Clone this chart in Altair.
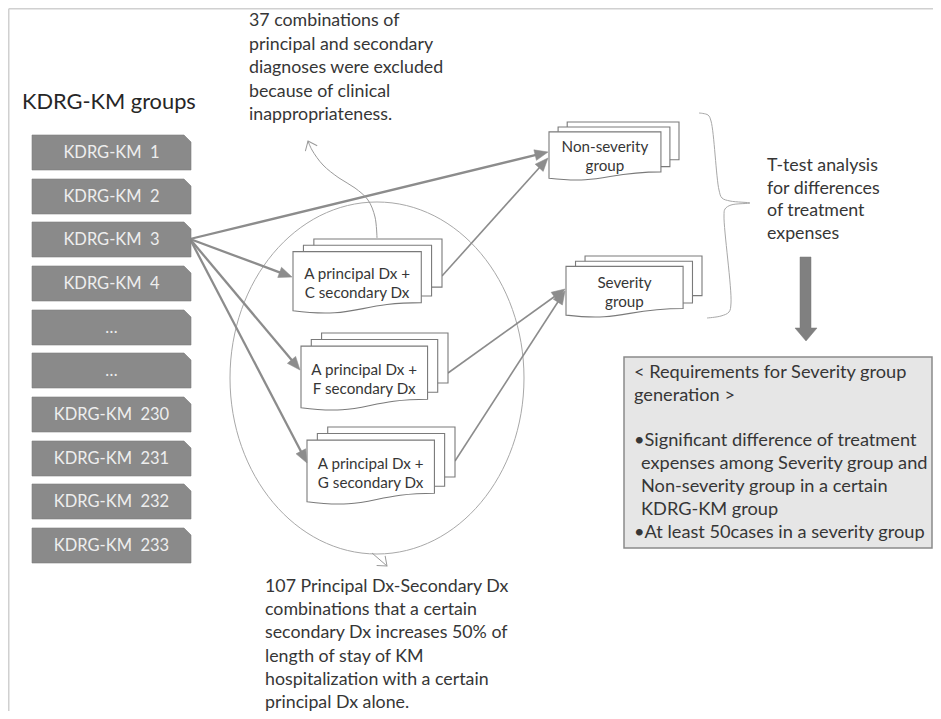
import math
import altair as alt
import pandas as pd

# ------------------------------------------------------------------
# Values (pixel positions on the 941x719 page)
# ------------------------------------------------------------------
title_text = "KDRG-KM groups"
title_x, title_y = 22, 102

group_labels = ["KDRG-KM\u00a0 1", "KDRG-KM\u00a0 2", "KDRG-KM\u00a0 3", "KDRG-KM\u00a0 4",
                "\u2026", "\u2026", "KDRG-KM\u00a0 230", "KDRG-KM\u00a0 231",
                "KDRG-KM\u00a0 232", "KDRG-KM\u00a0 233"]
group_top = [135, 179, 222, 266, 310, 353, 397, 441, 484, 528]
group_left, group_right, group_height, group_snip = 32, 191, 35, 7

doc_left = [293, 301, 307, 549, 566]
doc_top = [239, 333, 427, 122, 256]
doc_width = [149, 147, 148, 130, 136]
doc_height = [74, 77, 77, 58, 61]
doc_line1 = ["A principal Dx +", "A principal Dx +", "A principal Dx +", "Non-severity", "Severity"]
doc_line2 = ["C secondary Dx", "F secondary Dx", "G secondary Dx", "group", "group"]

arrow_x0 = [190, 190, 190, 190, 442, 448, 455]
arrow_y0 = [239, 239, 239, 239, 276, 373, 461]
arrow_x1 = [548, 292, 300, 307, 548, 565, 565]
arrow_y1 = [152, 277, 370, 463, 158, 289, 291]
arrow_w = [2.3, 2.3, 2.3, 2.3, 1.6, 1.6, 1.6]

excluded_x = [377, 375, 368, 355, 339, 323, 312, 308]
excluded_y = [238, 217, 200, 188, 178, 165, 150, 141]
included_x = [372, 387]
included_y = [553, 566]

ell_cx, ell_cy, ell_rx, ell_ry = 377, 378, 147, 176

brace_x = [699, 708, 711, 719, 722, 730, 750, 731, 725, 724, 731, 729, 721, 707]
brace_y = [113, 115, 121, 190, 198, 201, 203, 205, 209, 216, 303, 312, 316, 318]

top_note = ["37 combinations of", "principal and secondary", "diagnoses were excluded",
            "because of clinical", "inappropriateness."]
top_note_x, top_note_y, top_note_gap = 249, 21, 23.5

bottom_note = ["107 Principal Dx-Secondary Dx", "combinations that a certain",
               "secondary Dx increases 50% of", "length of stay of KM",
               "hospitalization with a certain", "principal Dx alone."]
bottom_note_x, bottom_note_y, bottom_note_gap = 265, 587, 23.2

ttest_lines = ["T-test analysis", "for differences", "of treatment", "expenses"]
ttest_x, ttest_y, ttest_gap = 767, 166, 22.5

req_lines = ["< Requirements for Severity group", "generation >", "",
             "\u2022Significant difference of treatment", "expenses among Severity group and",
             "Non-severity group in a certain", "KDRG-KM group",
             "\u2022At least 50cases in a severity group"]
req_indent = [0, 0, 0, 0, 1, 1, 1, 0]
req_x, req_y, req_gap, req_indent_px = 634, 373, 22.8, 7
req_box = (624, 357, 932, 548)

big_arrow = dict(shaft_l=800, shaft_r=811, top=257, head_y=328, head_l=795, head_r=817, tip=341, cx=806)

# colours
TEXT = "#363636"
ARROW = "#8c8c8c"
DOC_STROKE = "#7a7a7a"
THIN = "#a8a8a8"
BOX_FILL = "#8a8a8a"
BOX_TEXT = "#eeeeee"
REQ_FILL = "#e6e6e6"
REQ_STROKE = "#8a8a8a"
BORDER = "#d0d0d0"
FONT = "Lato"
NOTE_FS = 17.8


# ------------------------------------------------------------------
# helpers to build symbol paths (Vega custom symbol shapes)
# ------------------------------------------------------------------
def to_path(cmds, cx, cy, s):
    out = []
    for letter, pts in cmds:
        out.append(letter + " ".join(f"{(px - cx) / s:.4f},{(py - cy) / s:.4f}" for px, py in pts))
    return " ".join(out)


back_shapes, front_shapes = [], []


def add_shape(target, cmds, cx, cy, s, fill, stroke, sw):
    target.append(dict(x=cx, y=cy, size=(2 * s) ** 2, path=to_path(cmds, cx, cy, s),
                       fill=fill, stroke=stroke, sw=sw, angle=0.0))


# ellipse
k = 0.5523
ex, ey, rx, ry = ell_cx, ell_cy, ell_rx, ell_ry
add_shape(back_shapes, [
    ("M", [(ex + rx, ey)]),
    ("C", [(ex + rx, ey + k * ry), (ex + k * rx, ey + ry), (ex, ey + ry)]),
    ("C", [(ex - k * rx, ey + ry), (ex - rx, ey + k * ry), (ex - rx, ey)]),
    ("C", [(ex - rx, ey - k * ry), (ex - k * rx, ey - ry), (ex, ey - ry)]),
    ("C", [(ex + k * rx, ey - ry), (ex + rx, ey - k * ry), (ex + rx, ey)]),
    ("Z", []),
], ex, ey, rx, "transparent", THIN, 1.0)

# KDRG-KM boxes
for t in group_top:
    L, R, T, B = group_left, group_right, t, t + group_height
    cx, cy, s = (L + R) / 2, (T + B) / 2, (R - L) / 2
    add_shape(front_shapes, [("M", [(L, T)]), ("L", [(R - group_snip, T)]), ("L", [(R, T + group_snip)]),
                             ("L", [(R, B)]), ("L", [(L, B)]), ("Z", [])],
              cx, cy, s, BOX_FILL, "#7c7c7c", 0.6)

# multi-document shapes
for x0, y0, w, h in zip(doc_left, doc_top, doc_width, doc_height):
    def P(u, v):
        return (x0 + u * w, y0 + v * h)
    cx, cy, s = x0 + w / 2, y0 + h / 2, w / 2
    add_shape(front_shapes, [("M", [P(0.14, 0)]), ("L", [P(1, 0)]), ("L", [P(1, 0.65)]),
                             ("L", [P(0.14, 0.65)]), ("Z", [])], cx, cy, s, "white", DOC_STROKE, 1.1)
    add_shape(front_shapes, [("M", [P(0.07, 0.085)]), ("L", [P(0.93, 0.085)]), ("L", [P(0.93, 0.77)]),
                             ("L", [P(0.07, 0.77)]), ("Z", [])], cx, cy, s, "white", DOC_STROKE, 1.1)
    add_shape(front_shapes, [("M", [P(0, 0.17)]), ("L", [P(0.861, 0.17)]), ("L", [P(0.861, 0.86)]),
                             ("C", [P(0.43, 0.86), P(0.43, 1.08), P(0, 0.97)]), ("Z", [])],
              cx, cy, s, "white", DOC_STROKE, 1.1)

# requirement box
L, T, R, B = req_box
add_shape(front_shapes, [("M", [(L, T)]), ("L", [(R, T)]), ("L", [(R, B)]), ("L", [(L, B)]), ("Z", [])],
          (L + R) / 2, (T + B) / 2, (R - L) / 2, REQ_FILL, REQ_STROKE, 1.5)

# big block arrow
ba = big_arrow
add_shape(front_shapes, [("M", [(ba["shaft_l"], ba["top"])]), ("L", [(ba["shaft_r"], ba["top"])]),
                         ("L", [(ba["shaft_r"], ba["head_y"])]), ("L", [(ba["head_r"], ba["head_y"])]),
                         ("L", [(ba["cx"], ba["tip"])]), ("L", [(ba["head_l"], ba["head_y"])]),
                         ("L", [(ba["shaft_l"], ba["head_y"])]), ("Z", [])],
          ba["cx"], (ba["top"] + ba["tip"]) / 2, 25, "#808080", "#7a7a7a", 0.5)

HEAD = "M0,0 L0.9,2.2 L-0.9,2.2 Z"
CHEVRON = "M-1.08,1.35 L0,0 L1.08,1.35"


def heading(dx, dy):
    return (math.degrees(math.atan2(dx, -dy)) + 360) % 360


# lines
line_rows = []


def add_line(name, xs, ys, sw, color):
    for i, (x, y) in enumerate(zip(xs, ys)):
        line_rows.append(dict(id=name, k=i, x=x, y=y, sw=sw, color=color))


for i, (x0, y0, x1, y1, w) in enumerate(zip(arrow_x0, arrow_y0, arrow_x1, arrow_y1, arrow_w)):
    dx, dy = x1 - x0, y1 - y0
    Ln = math.hypot(dx, dy)
    add_line(f"a{i}", [x0, x1 - dx / Ln * 9], [y0, y1 - dy / Ln * 9], w, ARROW)
    front_shapes.append(dict(x=x1, y=y1, size=144, path=HEAD, fill=ARROW, stroke=ARROW,
                             sw=0.5, angle=heading(dx, dy)))

add_line("incl", included_x, included_y, 1.0, "#9a9a9a")
front_shapes.append(dict(x=included_x[-1], y=included_y[-1], size=144, path=CHEVRON, fill="transparent",
                         stroke="#9a9a9a", sw=1.0,
                         angle=heading(included_x[-1] - included_x[-2], included_y[-1] - included_y[-2])))
front_shapes.append(dict(x=excluded_x[-1], y=excluded_y[-1], size=144, path=CHEVRON, fill="transparent",
                         stroke="#9a9a9a", sw=1.0,
                         angle=heading(excluded_x[-1] - excluded_x[-2], excluded_y[-1] - excluded_y[-2])))
add_line("top", [8.75, 933], [8.75, 8.75], 1.5, BORDER)
add_line("left", [8.75, 8.75], [8.75, 711], 1.5, BORDER)

curve_rows = []
for i, (x, y) in enumerate(zip(excluded_x, excluded_y)):
    curve_rows.append(dict(id="excl", k=i, x=x, y=y, sw=1.0, color="#9a9a9a"))
for i, (x, y) in enumerate(zip(brace_x, brace_y)):
    curve_rows.append(dict(id="brace", k=i, x=x, y=y, sw=1.0, color=THIN))

# texts
left_texts, center_texts = [], []
left_texts.append(dict(x=title_x, y=title_y, text=title_text, fs=21.8, color="#262626"))
for i, t in enumerate(top_note):
    left_texts.append(dict(x=top_note_x, y=top_note_y + i * top_note_gap, text=t, fs=NOTE_FS, color=TEXT))
for i, t in enumerate(bottom_note):
    left_texts.append(dict(x=bottom_note_x, y=bottom_note_y + i * bottom_note_gap, text=t, fs=NOTE_FS, color=TEXT))
for i, t in enumerate(ttest_lines):
    left_texts.append(dict(x=ttest_x, y=ttest_y + i * ttest_gap, text=t, fs=NOTE_FS, color=TEXT))
for i, (t, ind) in enumerate(zip(req_lines, req_indent)):
    if t:
        left_texts.append(dict(x=req_x + ind * req_indent_px, y=req_y + i * req_gap, text=t, fs=18.2, color=TEXT))
for lab, t in zip(group_labels, group_top):
    center_texts.append(dict(x=(group_left + group_right) / 2, y=t + group_height / 2 + 0.5, text=lab,
                             fs=16.5, color=BOX_TEXT))
for x0, y0, w, h, l1, l2 in zip(doc_left, doc_top, doc_width, doc_height, doc_line1, doc_line2):
    cx, cy = x0 + 0.43 * w, y0 + 0.6 * h
    center_texts.append(dict(x=cx, y=cy - 9.5, text=l1, fs=15.2, color=TEXT))
    center_texts.append(dict(x=cx, y=cy + 9.5, text=l2, fs=15.2, color=TEXT))

# ------------------------------------------------------------------
# chart
# ------------------------------------------------------------------
xs = alt.Scale(domain=[8, 933], nice=False, zero=False)
ys = alt.Scale(domain=[8, 711], nice=False, zero=False, reverse=True)


def XY():
    return dict(x=alt.X("x:Q", scale=xs, axis=None), y=alt.Y("y:Q", scale=ys, axis=None))


def shapes_layer(rows):
    return alt.Chart(pd.DataFrame(rows)).mark_point(filled=True, opacity=1).encode(
        **XY(),
        shape=alt.Shape("path:N", scale=None),
        size=alt.Size("size:Q", scale=None),
        fill=alt.Fill("fill:N", scale=None),
        stroke=alt.Stroke("stroke:N", scale=None),
        strokeWidth=alt.StrokeWidth("sw:Q", scale=None),
        angle=alt.Angle("angle:Q", scale=None),
    )


def lines_layer(rows, interp):
    return alt.Chart(pd.DataFrame(rows)).mark_line(interpolate=interp, strokeCap="butt").encode(
        **XY(),
        detail="id:N",
        order="k:Q",
        stroke=alt.Stroke("color:N", scale=None),
        strokeWidth=alt.StrokeWidth("sw:Q", scale=None),
    )


def text_layer(rows, align):
    return alt.Chart(pd.DataFrame(rows)).mark_text(font=FONT, align=align, baseline="middle").encode(
        **XY(),
        text="text:N",
        size=alt.Size("fs:Q", scale=None),
        color=alt.Color("color:N", scale=None),
    )


chart = alt.layer(
    shapes_layer(back_shapes),
    lines_layer(line_rows, "linear"),
    lines_layer(curve_rows, "catmull-rom"),
    shapes_layer(front_shapes),
    text_layer(left_texts, "left"),
    text_layer(center_texts, "center"),
).properties(
    width=925, height=703, padding=0, autosize="none", background="white"
).configure_view(stroke=None)

chart.save("out.html", embed_options={"renderer": "svg", "actions": False})
